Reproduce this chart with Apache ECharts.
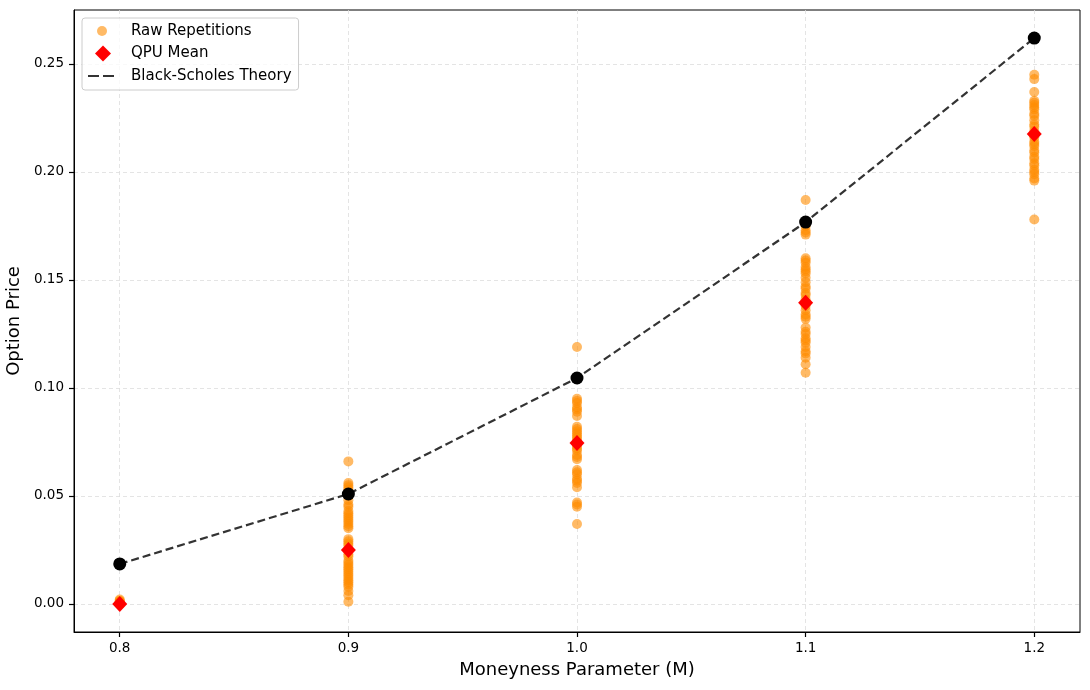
<!DOCTYPE html>
<html>
<head>
<meta charset="utf-8">
<script src="https://cdn.jsdelivr.net/npm/echarts@6/dist/echarts.min.js"></script>
<style>
  html, body { margin: 0; padding: 0; background: #fff; }
  #chart { width: 1090px; height: 690px; }
</style>
</head>
<body>
<div id="chart"></div>
<script>
// moneyness values
const moneyness = [0.8, 0.9, 1.0, 1.1, 1.2]

// raw repetitions, one list per moneyness
const raw08 = [0.0, 0.0, 0.0, 0.0005, 0.001, 0.001, 0.0015, 0.002]
const raw09 = [0.066, 0.056, 0.055, 0.054, 0.053, 0.050, 0.048, 0.046, 0.045, 0.043, 0.042, 0.041, 0.040, 0.039,
  0.038, 0.037, 0.036, 0.035, 0.030, 0.029, 0.028, 0.027, 0.025, 0.023, 0.022, 0.020, 0.019, 0.018, 0.017, 0.016,
  0.015, 0.014, 0.013, 0.012, 0.011, 0.010, 0.009, 0.008, 0.006, 0.004, 0.001]
const raw10 = [0.119, 0.095, 0.094, 0.093, 0.091, 0.090, 0.089, 0.087, 0.082, 0.081, 0.080, 0.079, 0.078, 0.077,
  0.076, 0.075, 0.073, 0.072, 0.071, 0.069, 0.068, 0.067, 0.062, 0.061, 0.060, 0.058, 0.057, 0.056, 0.054, 0.047,
  0.046, 0.045, 0.037]
const raw11 = [0.187, 0.175, 0.173, 0.172, 0.171, 0.160, 0.159, 0.158, 0.156, 0.155, 0.154, 0.153, 0.151, 0.149,
  0.147, 0.146, 0.144, 0.143, 0.141, 0.139, 0.138, 0.136, 0.134, 0.133, 0.132, 0.128, 0.126, 0.125, 0.123, 0.122,
  0.121, 0.119, 0.117, 0.116, 0.114, 0.111, 0.107]
const raw12 = [0.245, 0.243, 0.237, 0.233, 0.232, 0.231, 0.230, 0.229, 0.227, 0.226, 0.224, 0.222, 0.221, 0.219,
  0.217, 0.216, 0.214, 0.213, 0.212, 0.210, 0.209, 0.207, 0.206, 0.204, 0.203, 0.201, 0.200, 0.199, 0.197, 0.196,
  0.178]

const qpuMean = [0.0, 0.025, 0.0745, 0.1394, 0.2176]
const bsTheory = [0.0185, 0.0509, 0.1046, 0.1768, 0.262]

const xTicks = [0.8, 0.9, 1.0, 1.1, 1.2]
const yTicks = [0.0, 0.05, 0.10, 0.15, 0.20, 0.25]

const rawLists = [raw08, raw09, raw10, raw11, raw12]
const rawPoints = []
rawLists.forEach((list, i) => {
  list.forEach(v => rawPoints.push([moneyness[i], v]))
})

const chart = echarts.init(document.getElementById("chart"))

const font = "DejaVu Sans"
const gridLine = { show: true, lineStyle: { color: "#dddddd", type: [4, 3], width: 0.8 } }

// legend icons, drawn in a 38x16 box so they keep their own size
const iconCircle = "path://M0,0 M38,16 M9,8 A5,5 0 1 0 19,8 A5,5 0 1 0 9,8 Z"
const iconDiamond = "path://M0,0 M38,16 M15,0 L23,8 L15,16 L7,8 Z"
const iconDash = "path://M0,0 M38,16 M0,7 L11,7 L11,9 L0,9 Z M15,7 L26,7 L26,9 L15,9 Z"

chart.setOption({
  animation: false,
  textStyle: { fontFamily: font },
  grid: {
    left: 74, right: 10, top: 10, bottom: 58,
    outerBoundsMode: "none",
    show: true, borderColor: "#000", borderWidth: 1
  },
  legend: {
    orient: "vertical",
    left: 82,
    top: 18,
    padding: [5, 7, 6, 6],
    itemGap: 6.5,
    itemWidth: 38,
    itemHeight: 16,
    borderColor: "#cccccc",
    borderWidth: 1,
    borderRadius: 3,
    backgroundColor: "rgba(255,255,255,0.8)",
    textStyle: { fontSize: 15, color: "#000", fontFamily: font },
    data: [
      { name: "Raw Repetitions", icon: iconCircle, itemStyle: { color: "#ff8c00", opacity: 0.6 } },
      { name: "QPU Mean", icon: iconDiamond, itemStyle: { color: "#ff0000", opacity: 1 } },
      { name: "Black-Scholes Theory", icon: iconDash, itemStyle: { color: "#333333", opacity: 1, borderWidth: 0 }, lineStyle: { width: 0 } }
    ]
  },
  xAxis: {
    type: "value",
    min: 0.78,
    max: 1.22,
    name: "Moneyness Parameter (M)",
    nameLocation: "middle",
    nameGap: 29,
    nameTextStyle: { fontSize: 18, color: "#000" },
    axisLine: { show: true, onZero: false, lineStyle: { color: "#000", width: 1 } },
    axisTick: { show: true, length: 5, customValues: xTicks, lineStyle: { color: "#000", width: 1.2 } },
    axisLabel: { customValues: xTicks, fontSize: 13.5, color: "#000", margin: 9, formatter: v => v.toFixed(1) },
    splitLine: gridLine
  },
  yAxis: {
    type: "value",
    min: -0.013,
    max: 0.275,
    name: "Option Price",
    nameLocation: "middle",
    nameGap: 47,
    nameTextStyle: { fontSize: 18, color: "#000" },
    axisLine: { show: true, onZero: false, lineStyle: { color: "#000", width: 1 } },
    axisTick: { show: true, length: 5, customValues: yTicks, lineStyle: { color: "#000", width: 1.2 } },
    axisLabel: { customValues: yTicks, fontSize: 13.5, color: "#000", margin: 10, formatter: v => v.toFixed(2) },
    splitLine: gridLine
  },
  series: [
    {
      name: "Raw Repetitions",
      type: "scatter",
      data: rawPoints,
      symbol: "circle",
      symbolSize: 10,
      itemStyle: { color: "#ff8c00", opacity: 0.6 },
      z: 2
    },
    {
      name: "Black-Scholes Theory",
      type: "line",
      data: moneyness.map((m, i) => [m, bsTheory[i]]),
      showSymbol: false,
      symbol: "none",
      lineStyle: { color: "#333333", width: 2.2, type: [8, 4] },
      itemStyle: { color: "#333333" },
      z: 3
    },
    {
      name: "QPU Mean",
      type: "scatter",
      data: moneyness.map((m, i) => [m, qpuMean[i]]),
      symbol: "diamond",
      symbolSize: [15, 16],
      itemStyle: { color: "#ff0000", opacity: 1 },
      z: 4
    },
    {
      name: "theory points",
      type: "scatter",
      data: moneyness.map((m, i) => [m, bsTheory[i]]),
      symbol: "circle",
      symbolSize: 13,
      itemStyle: { color: "#000000", opacity: 1 },
      z: 5
    }
  ]
})
</script>
</body>
</html>
